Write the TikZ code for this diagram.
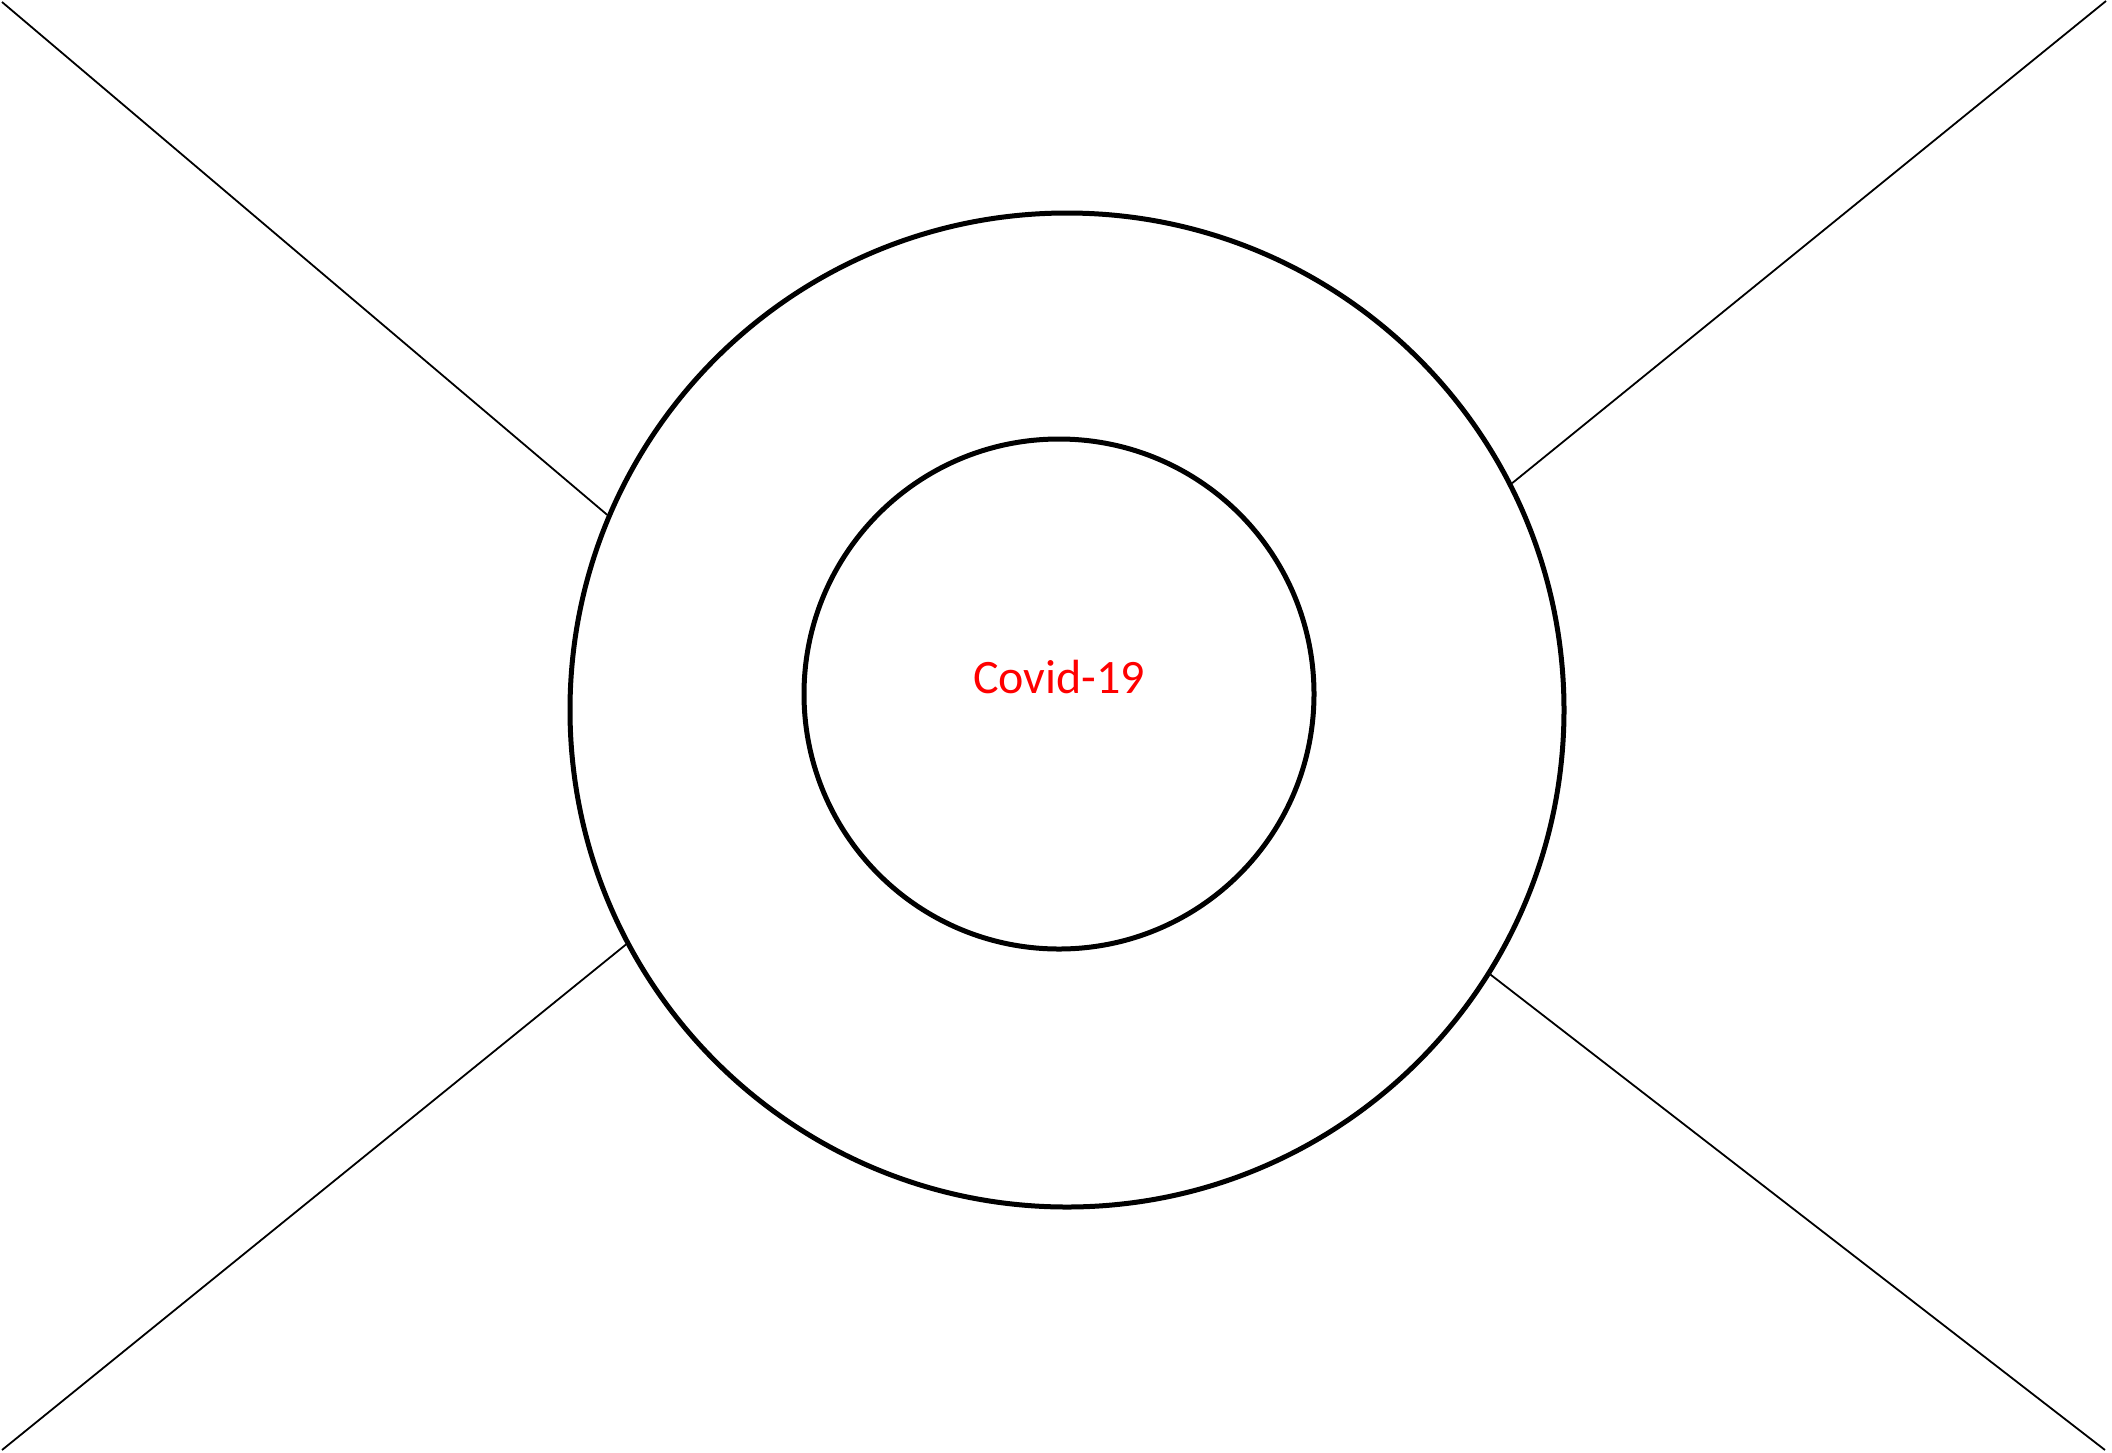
\documentclass[tikz,border=0pt]{standalone}
\usepackage{fontspec}
\setmainfont{Carlito}
\begin{document}
\begin{tikzpicture}[x=1pt,y=-1pt,
  ring/.style={draw=black,circle,line width=5pt,inner sep=0pt},
  spoke/.style={draw=black,line width=1.8pt},
  label/.style={text=red,font=\fontsize{48}{58}\selectfont,anchor=base,inner sep=0pt}]
\useasboundingbox (0,0) rectangle (2112,1452);
\node[ring,minimum size=994pt] (outer) at (1067,710) {};
\node[ring,minimum size=510pt] (inner) at (1059,694) {};
\node[label] (txt) at (1059,693) {Covid-19};
\coordinate (tl) at (2,2);
\coordinate (tr) at (2106,1);
\coordinate (bl) at (2,1450);
\coordinate (br) at (2105,1450);
\draw[spoke] (tl) -- (outer.157.6);
\draw[spoke] (tr) -- (outer.27.4);
\draw[spoke] (bl) -- (outer.208.3);
\draw[spoke] (br) -- (outer.328.2);
\end{tikzpicture}
\end{document}
